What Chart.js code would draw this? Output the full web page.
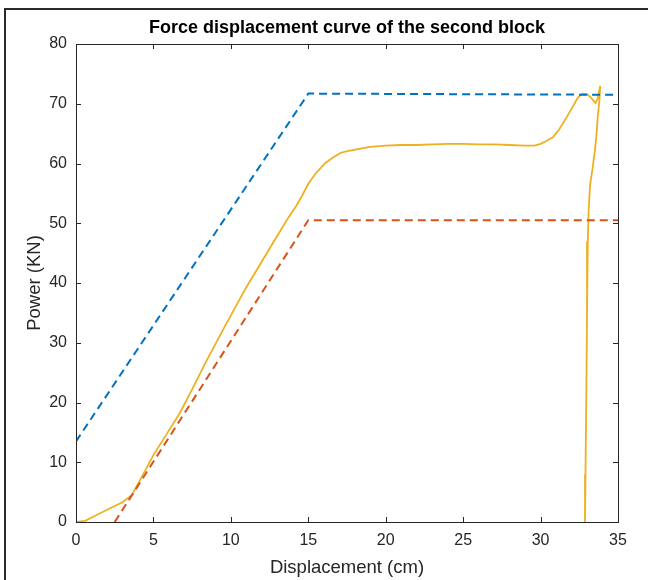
<!DOCTYPE html>
<html>
<head>
<meta charset="utf-8">
<script src="https://cdn.jsdelivr.net/npm/chart.js@4.4.1/dist/chart.umd.min.js"></script>
<style>
  html, body { margin: 0; padding: 0; background: #fff; }
  #wrap { width: 648px; height: 580px; }
</style>
</head>
<body>
<div id="wrap"><canvas id="chart" width="648" height="580"></canvas></div>
<script>
    // Courbes (déplacement en cm, force en kN)
    const blueX = [0, 15, 35];
    const blueY = [13.5, 71.7, 71.5];

    const redX = [2.5, 15, 35];
    const redY = [0, 50.5, 50.5];

    const forceX = [0, 0.6, 1.2, 2.2, 3.0, 3.6, 4.3, 5.0, 5.8, 6.7, 7.5, 8.45, 9.5, 10.3, 11.0, 12.0, 13.0, 13.7, 14.2, 14.6,
        15.0, 15.5, 16.1, 16.6, 17.1, 17.6, 18.2, 19.0, 20.0, 21.0, 22.0, 23.0, 24.0, 25.0, 26.0, 27.0, 28.0, 29.0, 29.6, 30.0,
        30.4, 30.8, 31.2, 31.7, 32.1, 32.4, 32.7, 33.0, 33.3, 33.55, 33.7, 33.85, 33.8, 33.7, 33.6, 33.5, 33.35, 33.2, 33.1, 33.05,
        33.0, 32.95, 32.9, 32.87];
    const forceY = [0, 0.2, 1.0, 2.3, 3.3, 4.5, 7.8, 11.2, 14.5, 18.2, 22.2, 27.1, 32.2, 36.0, 39.3, 43.6, 47.9, 50.9, 52.8, 54.6,
        56.6, 58.4, 60.1, 61.0, 61.8, 62.1, 62.4, 62.8, 63.0, 63.1, 63.1, 63.2, 63.3, 63.3, 63.2, 63.2, 63.1, 63.0, 63.0, 63.3,
        63.8, 64.4, 65.7, 67.8, 69.6, 71.0, 71.7, 71.6, 70.9, 70.1, 71.0, 73.0, 70.5, 68.0, 64.5, 62.0, 59.0, 56.5, 52.0, 47.0,
        35.0, 20.0, 8.0, 0];

    const xTicks = [0, 5, 10, 15, 20, 25, 30, 35];
    const yTicks = [0, 10, 20, 30, 40, 50, 60, 70, 80];

    const axisColor = '#262626';
    const fontFamily = '"Liberation Sans", Arial, Helvetica, sans-serif';

    function toPoints(xs, ys) {
        return xs.map((x, i) => ({ x: x, y: ys[i] }));
    }

    // Cadre autour de la figure + fond blanc
    const framePlugin = {
        id: 'frame',
        beforeDraw(chart) {
            const ctx = chart.ctx;
            ctx.save();
            ctx.fillStyle = '#fff';
            ctx.fillRect(0, 0, chart.width, chart.height);
            ctx.strokeStyle = '#2b2b2b';
            ctx.lineWidth = 2;
            ctx.beginPath();
            ctx.moveTo(5, chart.height);
            ctx.lineTo(5, 9);
            ctx.lineTo(chart.width, 9);
            ctx.stroke();
            ctx.restore();
        }
    };

    // Boîte des axes avec graduations vers l'intérieur (style MATLAB)
    const boxPlugin = {
        id: 'box',
        afterDatasetsDraw(chart) {
            const ctx = chart.ctx;
            const area = chart.chartArea;
            const xs = chart.scales.x;
            const ys = chart.scales.y;
            const len = 5;
            ctx.save();
            ctx.strokeStyle = axisColor;
            ctx.lineWidth = 1;
            ctx.beginPath();
            xTicks.forEach(v => {
                const px = Math.round(xs.getPixelForValue(v)) + 0.5;
                ctx.moveTo(px, area.bottom);
                ctx.lineTo(px, area.bottom - len);
                ctx.moveTo(px, area.top);
                ctx.lineTo(px, area.top + len);
            });
            yTicks.forEach(v => {
                const py = Math.round(ys.getPixelForValue(v)) + 0.5;
                ctx.moveTo(area.left, py);
                ctx.lineTo(area.left + len, py);
                ctx.moveTo(area.right, py);
                ctx.lineTo(area.right - len, py);
            });
            ctx.stroke();
            ctx.strokeRect(Math.round(area.left) + 0.5, Math.round(area.top) + 0.5,
                Math.round(area.right - area.left), Math.round(area.bottom - area.top));
            ctx.restore();
        }
    };

    const ctx = document.getElementById('chart').getContext('2d');
    new Chart(ctx, {
        type: 'scatter',
        data: {
            datasets: [
                {
                    label: 'Droite 1',
                    data: toPoints(blueX, blueY),
                    showLine: true,
                    borderColor: '#0072BD',
                    borderWidth: 2,
                    borderDash: [8, 5],
                    pointRadius: 0
                },
                {
                    label: 'Droite 2',
                    data: toPoints(redX, redY),
                    showLine: true,
                    borderColor: '#D95319',
                    borderWidth: 2,
                    borderDash: [8, 5],
                    pointRadius: 0
                },
                {
                    label: 'Force',
                    data: toPoints(forceX, forceY),
                    showLine: true,
                    borderColor: '#EDB120',
                    borderWidth: 1.8,
                    pointRadius: 0,
                    tension: 0
                }
            ]
        },
        options: {
            responsive: false,
            animation: false,
            layout: { padding: { left: 0, right: 30, top: 0, bottom: 0 } },
            plugins: {
                legend: { display: false },
                tooltip: { enabled: false },
                title: {
                    display: true,
                    text: 'Force displacement curve of the second block',
                    fullSize: false,
                    color: '#000',
                    font: { family: fontFamily, size: 18, weight: 'bold' },
                    padding: { top: 17, bottom: 5.4 }
                }
            },
            scales: {
                x: {
                    type: 'linear',
                    min: 0,
                    max: 35,
                    afterFit: s => { s.height = 58; },
                    afterBuildTicks: s => { s.ticks = xTicks.map(v => ({ value: v })); },
                    grid: { display: false, drawTicks: false },
                    border: { display: false },
                    ticks: {
                        color: axisColor,
                        padding: 9,
                        maxRotation: 0,
                        font: { family: fontFamily, size: 16 }
                    },
                    title: {
                        display: true,
                        text: 'Displacement (cm)',
                        color: axisColor,
                        font: { family: fontFamily, size: 18.5 },
                        padding: { top: 0, bottom: 1 }
                    }
                },
                y: {
                    type: 'linear',
                    min: 0,
                    max: 80,
                    afterFit: s => { s.width = 76; },
                    afterBuildTicks: s => { s.ticks = yTicks.map(v => ({ value: v })); },
                    grid: { display: false, drawTicks: false },
                    border: { display: false },
                    ticks: {
                        color: axisColor,
                        padding: 9,
                        font: { family: fontFamily, size: 16 }
                    },
                    title: {
                        display: true,
                        text: 'Power (KN)',
                        color: axisColor,
                        font: { family: fontFamily, size: 18.5 },
                        padding: { top: 24, bottom: 0 }
                    }
                }
            }
        },
        plugins: [framePlugin, boxPlugin]
    });
</script>
</body>
</html>
